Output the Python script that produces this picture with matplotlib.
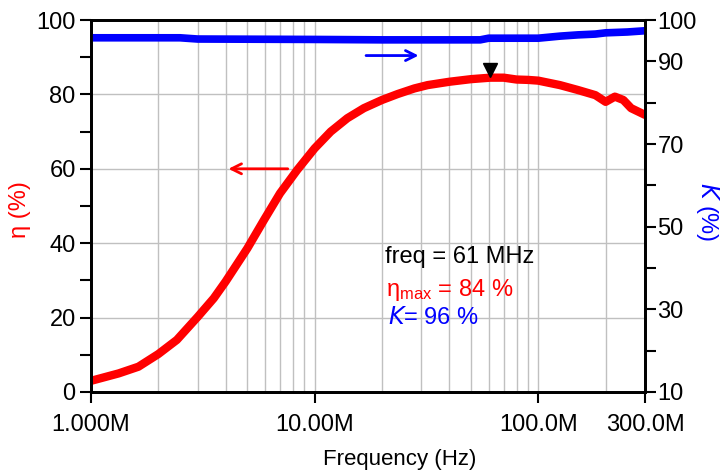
import matplotlib.pyplot as plt
from matplotlib.ticker import FixedLocator, FixedFormatter, NullFormatter, LogLocator

plt.rcParams['font.family'] = ['Liberation Sans Narrow', 'Liberation Sans', 'DejaVu Sans']
plt.rcParams['mathtext.fontset'] = 'custom'
plt.rcParams['mathtext.rm'] = 'Liberation Sans Narrow'
plt.rcParams['mathtext.it'] = 'Liberation Sans Narrow:italic'

# efficiency curve (frequency in MHz, eta in %)
freq_eta = [1.0, 1.33, 1.63, 2.0, 2.42, 3.0, 3.54, 4.0, 5.0, 5.93, 7.0, 8.36, 10,
            11.8, 14, 16.6, 20, 23.5, 27.9, 32, 40, 50, 61, 70, 80, 90, 100, 125,
            150, 180, 200, 220, 240, 260, 300]
eta = [3.0, 5.0, 6.8, 10.2, 14.0, 20.2, 25.2, 29.7, 38.6, 46.2, 53.4, 59.7, 65.5,
       70.0, 73.6, 76.3, 78.5, 80.1, 81.6, 82.5, 83.4, 84.1, 84.5, 84.5, 84.0,
       83.9, 83.7, 82.5, 81.2, 79.8, 78.0, 79.4, 78.5, 76.3, 74.5]

# K curve (right axis)
freq_k = [1, 2.5, 3, 10, 20, 55, 60, 100, 125, 150, 180, 200, 250, 300]
k = [95.7, 95.7, 95.4, 95.3, 95.2, 95.2, 95.6, 95.6, 96.1, 96.4, 96.6, 96.9, 97.1, 97.4]

f_peak, eta_peak, k_peak = 61, 84, 96

fig = plt.figure(figsize=(7.21, 4.72), dpi=100)
ax = fig.add_axes([0.1262, 0.1695, 0.7684, 0.7881])
ax2 = ax.twinx()

ax.set_xscale('log')
ax.set_xlim(1, 300)
ax.set_ylim(0, 100)
ax2.set_ylim(10, 100)

ax.grid(True, which='both', axis='x', color='#c0c0c0', lw=1)
ax.yaxis.set_major_locator(FixedLocator([0, 20, 40, 60, 80, 100]))
ax.yaxis.set_minor_locator(FixedLocator([10, 30, 50, 70, 90]))
ax.grid(True, which='major', axis='y', color='#c0c0c0', lw=1)
ax.set_axisbelow(True)

ax.xaxis.set_major_locator(FixedLocator([1, 10, 100, 300]))
ax.xaxis.set_major_formatter(FixedFormatter(['1.000M', '10.00M', '100.0M', '300.0M']))
ax.xaxis.set_minor_locator(LogLocator(base=10, subs=range(2, 10), numticks=20))
ax.xaxis.set_minor_formatter(NullFormatter())
ax.tick_params(axis='x', which='minor', length=0)
ax.tick_params(axis='x', which='major', length=8, width=1.5, labelsize=17, pad=8)
ax.tick_params(axis='y', which='major', length=8, width=1.5, labelsize=17, pad=3)
ax.tick_params(axis='y', which='minor', length=8, width=1.5)

ax2.yaxis.set_major_locator(FixedLocator([10, 30, 50, 70, 90, 100]))
ax2.yaxis.set_minor_locator(FixedLocator([20, 40, 60, 80]))
ax2.tick_params(axis='y', which='major', length=8, width=1.5, labelsize=17, pad=1)
ax2.tick_params(axis='y', which='minor', length=8, width=1.5)

for a in (ax, ax2):
    for s in a.spines.values():
        s.set_linewidth(2)

ax.plot(freq_eta, eta, color='red', lw=6, solid_capstyle='round', solid_joinstyle='round')
ax2.plot(freq_k, k, color='blue', lw=5.5, solid_capstyle='round', solid_joinstyle='round')

# peak marker
ax.plot([f_peak], [eta_peak + 2.5], marker='v', color='black', ms=10, ls='none')

# direction arrows
ax.annotate('', xy=(4.0, 60), xytext=(7.8, 60),
            arrowprops=dict(arrowstyle='->', color='red', lw=2, mutation_scale=18))
ax2.annotate('', xy=(30, 91.4), xytext=(16.5, 91.4),
             arrowprops=dict(arrowstyle='->', color='blue', lw=2, mutation_scale=18))

ax.text(0.531, 0.364, f'freq = {f_peak} MHz', transform=ax.transAxes, fontsize=17,
        color='black', va='center', ha='left')
ax.text(0.533, 0.274, r'$\mathregular{η_{max}}$' + f' = {eta_peak} %', transform=ax.transAxes,
        fontsize=17, color='red', va='center', ha='left')
ax.text(0.537, 0.199, r'$\it{K}$' + f'= {k_peak} %', transform=ax.transAxes, fontsize=17,
        color='blue', va='center', ha='left')

fig.text(400 / 721, 1 - 460 / 472, 'Frequency (Hz)', fontsize=16, ha='center', va='center')
fig.text(20 / 721, 1 - 210 / 472, 'η (%)', fontsize=17, color='red', rotation=90,
         ha='center', va='center')
fig.text(708 / 721, 1 - 212 / 472, r'$\it{K}$ (%)', fontsize=17, color='blue',
         rotation=270, ha='center', va='center')

fig.savefig('out.png', dpi=100)
